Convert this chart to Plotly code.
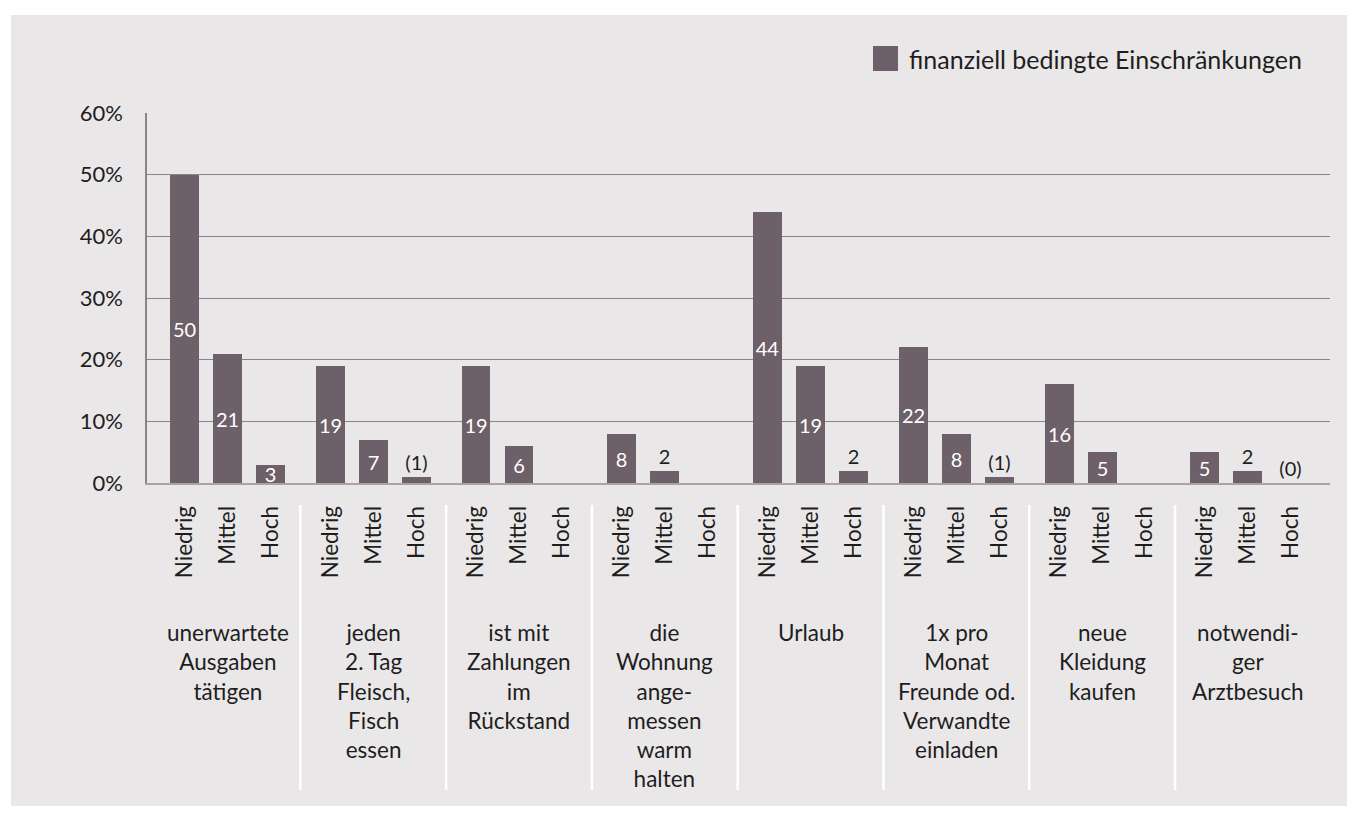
import plotly.graph_objects as go

groups = [
    "unerwartete<br>Ausgaben<br>tätigen",
    "jeden<br>2. Tag<br>Fleisch,<br>Fisch<br>essen",
    "ist mit<br>Zahlungen<br>im<br>Rückstand",
    "die<br>Wohnung<br>ange-<br>messen<br>warm<br>halten",
    "Urlaub",
    "1x pro<br>Monat<br>Freunde od.<br>Verwandte<br>einladen",
    "neue<br>Kleidung<br>kaufen",
    "notwendi-<br>ger<br>Arztbesuch",
]
levels = ["Niedrig", "Mittel", "Hoch"]
values = [
    [50, 21, 3],
    [19, 7, 1],
    [19, 6, None],
    [8, 2, None],
    [44, 19, 2],
    [22, 8, 1],
    [16, 5, None],
    [5, 2, 0],
]
labels = [
    ["50", "21", "3"],
    ["19", "7", "(1)"],
    ["19", "6", ""],
    ["8", "2", ""],
    ["44", "19", "2"],
    ["22", "8", "(1)"],
    ["16", "5", ""],
    ["5", "2", "(0)"],
]
series_name = "finanziell bedingte Einschränkungen"
y_ticks = [0, 10, 20, 30, 40, 50, 60]
y_ticktext = ["0%", "10%", "20%", "30%", "40%", "50%", "60%"]

BAR = "#6e6068"
TXT = "#1e1e1e"
FONT = "Lato, 'Source Sans Pro', sans-serif"

first = 0.872
step = 3.39
xs, ys, ts, pos, ticktext = [], [], [], [], []
for g, row in enumerate(values):
    for k, v in enumerate(row):
        xs.append(first + g * step + k)
        ys.append(v)
        t = labels[g][k]
        ts.append(t)
        small = (v is not None and v <= 2) or t.startswith("(")
        pos.append("outside" if small else "inside")
        ticktext.append(levels[k])

fig = go.Figure()
fig.add_trace(go.Bar(
    x=xs, y=ys, text=ts, textposition=pos, width=0.67, textangle=0,
    marker=dict(color=BAR, line=dict(width=0)),
    insidetextanchor="middle", constraintext="none",
    insidetextfont=dict(color="white", size=20, family=FONT),
    outsidetextfont=dict(color=TXT, size=20, family=FONT),
    name=series_name, showlegend=False, cliponaxis=False,
))

OFF = 8  # page body margin
W, H = 1359 - OFF, 821 - OFF
L, R, T, B = 147 - OFF, 1330 - OFF, 113 - OFF, 483 - OFF
pw, ph = R - L, B - T

def px2x(p):
    return (p - OFF - L) / pw

def py2y(p):
    return (B - (p - OFF)) / ph

shapes = [dict(type="rect", xref="paper", yref="paper",
               x0=px2x(11), x1=px2x(1347), y0=py2y(806), y1=py2y(15),
               fillcolor="#eae7e8", line=dict(width=0), layer="below")]
for g in range(len(groups) - 1):
    xm = first + g * step + 2 + (step - 2) / 2
    shapes.append(dict(type="line", xref="x", yref="paper", x0=xm, x1=xm,
                       y0=py2y(505), y1=py2y(790),
                       line=dict(color="white", width=2.5)))
# legend swatch
shapes.append(dict(type="rect", xref="paper", yref="paper",
                   x0=px2x(873), x1=px2x(898), y0=py2y(71), y1=py2y(46),
                   fillcolor=BAR, line=dict(width=0)))

annotations = []
for g, name in enumerate(groups):
    annotations.append(dict(x=first + g * step + 1, xref="x", y=py2y(617), yref="paper",
                            text=name, showarrow=False, xanchor="center", yanchor="top",
                            align="center", font=dict(size=22.5, color=TXT, family=FONT)))
annotations.append(dict(x=px2x(907), xref="paper", y=py2y(59), yref="paper",
                        text=series_name, showarrow=False, xanchor="left", yanchor="middle",
                        font=dict(size=25, color=TXT, family=FONT)))

fig.update_layout(
    width=W, height=H,
    margin=dict(l=L, r=W - R, t=T, b=H - B, pad=0),
    paper_bgcolor="white", plot_bgcolor="rgba(0,0,0,0)",
    font=dict(family=FONT, color=TXT, size=22),
    shapes=shapes, annotations=annotations, showlegend=False,
    bargap=0,
)
fig.update_xaxes(range=[0, pw / 43], tickvals=xs, ticktext=ticktext, tickangle=-90,
                 showgrid=False, zeroline=False, showline=True, linecolor="#aaa3a6",
                 linewidth=2, ticks="", ticklabelstandoff=12,
                 tickfont=dict(size=22.5, color=TXT, family=FONT))
fig.update_yaxes(range=[0, 60], tickvals=y_ticks, ticktext=y_ticktext, showgrid=True,
                 gridcolor="#8c8288", gridwidth=1, zeroline=False, showline=True,
                 linecolor="#8c8288", linewidth=1.5, ticks="", ticklabelstandoff=18,
                 tickfont=dict(size=22, color=TXT, family=FONT))

fig.write_html("out.html")
